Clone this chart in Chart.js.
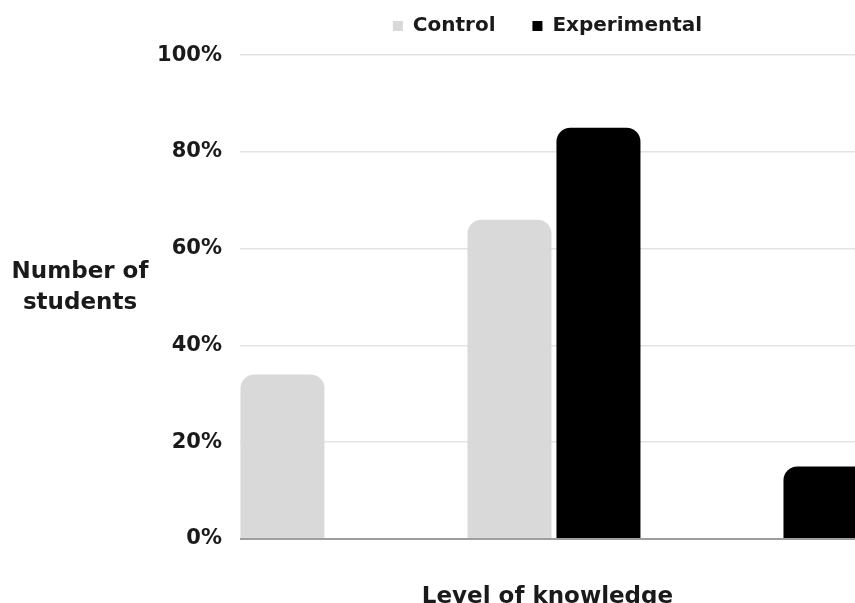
<!DOCTYPE html>
<html>
<head>
<meta charset="utf-8">
<script src="https://cdn.jsdelivr.net/npm/chart.js@4"></script>
<style>
  html, body { margin: 0; padding: 0; background: #fff; overflow: hidden; }
</style>
</head>
<body>
<canvas id="myChart" width="855" height="603"></canvas>
<script>
'use strict';

// data
let levels = [1, 2, 3];
let controlValues = [34, 66, 0];
let experimentalValues = [0, 85, 15];
let yTicks = [0, 20, 40, 60, 80, 100];
let seriesNames = ['Control', 'Experimental'];

let textColor = '#1a1a1a';

Chart.defaults.font.family = '"DejaVu Sans", sans-serif';
Chart.defaults.font.weight = 'bold';
Chart.defaults.color = textColor;

// y title is horizontal, two lines, left of the ticks
let yTitlePlugin = {
  id: 'yTitle',
  afterDraw(chart) {
    let c = chart.ctx;
    c.save();
    c.font = 'bold 23px "DejaVu Sans"';
    c.fillStyle = textColor;
    c.textAlign = 'center';
    c.textBaseline = 'middle';
    c.fillText('Number of', 80, 272);
    c.fillText('students', 80, 303);
    c.restore();
  }
};

function toPoints(values) {
  return levels.map((x, i) => ({ x: x, y: values[i] }));
}

let ctx = document.getElementById('myChart').getContext('2d');
let myChart = new Chart(ctx, { //eslint-disable-line
  type: 'bar',
  data: {
    datasets: [{
      label: seriesNames[0],
      data: toPoints(controlValues),
      backgroundColor: '#d9d9d9',
      borderRadius: 14,
      borderWidth: 0,
      categoryPercentage: 0.784,
      barPercentage: 0.944
    }, {
      label: seriesNames[1],
      data: toPoints(experimentalValues),
      backgroundColor: '#000000',
      borderRadius: 14,
      borderWidth: 0,
      categoryPercentage: 0.784,
      barPercentage: 0.944
    }]
  },
  options: {
    responsive: false,
    animation: false,
    layout: { padding: 0 },
    plugins: {
      tooltip: { enabled: false },
      legend: {
        position: 'top',
        fullSize: false,
        labels: {
          boxWidth: 10,
          boxHeight: 10,
          padding: 16,
          color: textColor,
          font: { size: 20, weight: 'bold' },
          generateLabels(chart) {
            let items = Chart.defaults.plugins.legend.labels.generateLabels(chart);
            items[0].text += '   ';
            return items;
          }
        }
      }
    },
    scales: {
      x: {
        type: 'linear',
        offset: false,
        min: 0.617,
        max: 3.326,
        afterBuildTicks(scale) {
          scale.ticks = levels.map(v => ({ value: v }));
        },
        grid: { display: false },
        border: { display: false },
        ticks: { display: false },
        title: {
          display: true,
          text: 'Level of knowledge',
          color: textColor,
          font: { size: 23, weight: 'bold' },
          padding: { top: 0, bottom: -8 }
        },
        afterFit(scale) { scale.height = 64; }
      },
      y: {
        min: 0,
        max: 101.9,
        afterBuildTicks(scale) {
          scale.ticks = yTicks.map(v => ({ value: v }));
        },
        grid: {
          drawTicks: false,
          color: c => (c.tick && c.tick.value === 0) ? '#9e9e9e' : '#e3e3e3',
          lineWidth: c => (c.tick && c.tick.value === 0) ? 2 : 1.5
        },
        border: { display: false },
        ticks: {
          padding: 18,
          color: textColor,
          font: { size: 21, weight: 'bold' },
          callback: v => v + '%'
        },
        afterFit(scale) { scale.width = 240; }
      }
    }
  },
  plugins: [yTitlePlugin]
});
</script>
</body>
</html>
